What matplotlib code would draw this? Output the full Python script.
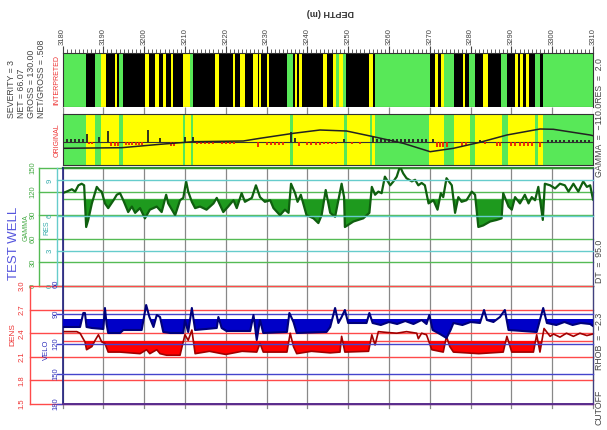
import numpy as np
import matplotlib
matplotlib.use("Agg")
import matplotlib.pyplot as plt

plt.rcParams["font.family"] = ["Liberation Sans", "DejaVu Sans"]

depth_ticks = list(range(3180, 3311, 10))

# interpreted column: start depth of each interval and its class (G sand-free, B black, Y yellow)
interp_top = [3180, 3185.8, 3188.0, 3189.4, 3190.7, 3192.9, 3193.4, 3193.9, 3194.9, 3200.2,
              3201.3, 3202.7, 3203.7, 3204.7, 3205.4, 3206.6, 3207.2, 3209.6, 3211.2, 3211.9,
              3217.4, 3218.4, 3221.7, 3222.3, 3223.5, 3224.7, 3226.6, 3227.8, 3228.2, 3228.7,
              3230.0, 3230.7, 3235.0, 3236.6, 3237.0, 3237.4, 3238.0, 3238.6, 3243.9, 3244.9,
              3246.2, 3247.0, 3247.8, 3248.7, 3249.5, 3255.2, 3256.1, 3256.6, 3270.1, 3271.3,
              3272.1, 3272.7, 3273.5, 3276.0, 3278.2, 3278.6, 3279.6, 3281.2, 3283.0, 3284.2,
              3287.4, 3289.0, 3290.9, 3291.5, 3292.1, 3292.8, 3293.5, 3294.2, 3295.8, 3297.0,
              3297.7]
interp_cls = ["G", "B", "G", "Y", "B", "Y", "B", "G", "B", "Y",
              "B", "Y", "B", "Y", "B", "Y", "B", "Y", "G", "B",
              "Y", "B", "Y", "B", "Y", "B", "Y", "B", "Y", "B",
              "Y", "B", "G", "B", "Y", "B", "Y", "B", "Y", "B",
              "Y", "G", "Y", "G", "B", "Y", "B", "G", "B", "Y",
              "B", "Y", "G", "B", "Y", "B", "G", "B", "Y", "B",
              "G", "B", "Y", "B", "Y", "B", "Y", "B", "G", "B",
              "G"]

# original column background
orig_top = [3180, 3185.8, 3188.0, 3189.4, 3193.9, 3194.9, 3209.6, 3210.1, 3211.5, 3212.1,
            3235.8, 3236.6, 3248.9, 3249.6, 3255.3, 3255.8, 3256.5, 3269.8, 3273.5, 3276.0,
            3279.9, 3281.2, 3287.6, 3289.2, 3295.8, 3296.6, 3297.7]
orig_cls = ["G", "Y", "G", "Y", "G", "Y", "G", "Y", "G", "Y",
            "G", "Y", "G", "Y", "G", "Y", "G", "Y", "G", "Y",
            "G", "Y", "G", "Y", "G", "Y", "G"]

# original column sticks (+ black, - red)
stick_depth = [3180, 3181, 3182, 3183, 3184, 3185, 3185.9, 3186.6, 3187.3, 3189.0,
               3191.1, 3192.0, 3192.8, 3193.6, 3195.5, 3196.3, 3197.1, 3197.9, 3198.7, 3199.5,
               3201.0, 3203.9, 3206.5, 3207.3, 3210.0, 3212.1, 3213, 3214, 3215, 3216,
               3217, 3219, 3220, 3221, 3222, 3228.0, 3230, 3231, 3232, 3233,
               3234, 3236.0, 3237.0, 3238.0, 3240, 3241, 3242, 3243, 3244, 3245,
               3246, 3247, 3249.0, 3251, 3253, 3256.0, 3257, 3258, 3259, 3260,
               3261, 3262, 3263, 3264, 3265, 3266, 3267, 3268, 3269, 3270.9,
               3271.7, 3272.5, 3273.3, 3274.1, 3277.8, 3279.0, 3282.3, 3283.5, 3286.4, 3287.2,
               3290, 3291, 3292, 3293, 3294, 3295, 3297, 3299, 3300, 3301,
               3302, 3303, 3304, 3305, 3306, 3307, 3308, 3309]
stick_val = [3, 3, 3, 3, 3, 3, 8, -2, -2, 5,
             11, -4, -4, -4, -3, -3, -3, -3, -3, -3,
             12, 4, -4, -4, 5, 5, -2, -2, -2, -2,
             -2, -2, -2, -2, -2, -5, -3, -3, -3, -3,
             -3, 10, 4, -4, -3, -3, -3, -3, -2, -2,
             -2, -2, 3, -2, -2, 5, 3, 3, 3, 3,
             3, 3, 3, 3, 3, 3, 3, 3, 3, 3,
             -5, -5, -5, -5, -4, -4, 2, -2, -4, -4,
             -4, -4, -4, -4, -4, -4, -5, 2, 2, 2,
             2, 2, 2, 2, 2, 2, 2, 2]

# smooth trend curve in original column
trend_depth = [3180, 3194.5, 3203.9, 3212.1, 3224.3, 3228.4, 3236.6, 3243.1, 3249.6, 3256.2,
               3263.5, 3270.1, 3275.8, 3282.3, 3288.9, 3297.0, 3300.3, 3309.3, 3310]
trend_val = [-6.6, -6.0, -2.6, 0.0, 0.7, 3.4, 8.4, 11.7, 10.7, 5.0,
             -1.6, -10.0, -6.6, -0.6, 6.7, 12.7, 12.4, 6.7, 6.0]

# gamma ray (API)
gamma_depth = [3180.0, 3181.0, 3182.3, 3183.1, 3183.9, 3184.7, 3185.3, 3185.8, 3186.3, 3187.2,
               3188.4, 3189.0, 3189.6, 3190.4, 3191.2, 3192.5, 3193.3, 3194.1, 3194.9, 3196.1,
               3197.0, 3197.8, 3199.0, 3200.2, 3201.4, 3203.1, 3204.3, 3205.4, 3205.9, 3207.6,
               3208.8, 3209.6, 3210.3, 3210.8, 3211.7, 3212.5, 3213.7, 3215.3, 3217.0, 3217.8,
               3219.4, 3220.6, 3221.9, 3222.7, 3223.9, 3224.7, 3226.4, 3227.4, 3228.4, 3229.6,
               3230.9, 3231.7, 3233.3, 3234.5, 3235.4, 3236.0, 3237.0, 3237.6, 3238.4, 3239.8,
               3241.5, 3242.7, 3243.5, 3244.5, 3245.6, 3246.8, 3247.6, 3248.4, 3249.0, 3249.2,
               3251.3, 3253.7, 3255.2, 3255.8, 3256.6, 3257.4, 3258.2, 3259.0, 3260.3, 3261.1,
               3261.9, 3262.7, 3263.5, 3264.3, 3265.6, 3266.4, 3267.2, 3268.0, 3268.8, 3269.7,
               3270.9, 3271.9, 3272.7, 3273.3, 3274.1, 3275.4, 3276.2, 3277.0, 3277.8, 3279.0,
               3280.3, 3281.1, 3281.9, 3283.1, 3284.8, 3286.4, 3287.6, 3288.0, 3289.3, 3290.1,
               3290.9, 3292.1, 3293.3, 3294.2, 3295.0, 3295.8, 3296.6, 3297.7, 3298.2, 3299.5,
               3300.7, 3301.9, 3303.1, 3304.0, 3305.2, 3306.4, 3307.6, 3308.5, 3309.3, 3310.0]
gamma_val = [118, 120, 123, 120, 128, 130, 128, 75, 84, 105,
             126, 122, 120, 105, 99, 109, 116, 118, 109, 94,
             101, 93, 99, 86, 97, 101, 94, 116, 105, 90,
             109, 112, 133, 120, 107, 99, 101, 97, 105, 112,
             94, 101, 109, 99, 118, 107, 112, 128, 113, 107,
             109, 99, 90, 97, 93, 130, 118, 107, 116, 90,
             86, 80, 90, 122, 93, 88, 109, 130, 113, 75,
             82, 86, 93, 126, 116, 120, 118, 139, 128, 133,
             139, 152, 143, 137, 133, 135, 128, 131, 128, 105,
             109, 97, 118, 113, 137, 128, 93, 113, 107, 109,
             120, 116, 75, 77, 82, 84, 86, 118, 101, 97,
             113, 105, 116, 105, 113, 109, 126, 84, 130, 128,
             124, 130, 128, 120, 130, 120, 133, 126, 128, 110]

# sonic (VELO / DT)
dt_depth = [3180.0, 3184.3, 3185.1, 3185.5, 3185.9, 3187.2, 3190.0, 3190.4, 3190.8, 3191.2,
            3194.1, 3194.9, 3199.4, 3200.5, 3201.3, 3202.3, 3203.1, 3203.9, 3204.7, 3206.4,
            3209.6, 3210.0, 3210.8, 3211.7, 3212.5, 3217.8, 3218.2, 3219.0, 3220.2, 3226.0,
            3226.8, 3227.6, 3228.4, 3229.2, 3235.0, 3235.6, 3236.6, 3237.4, 3244.7, 3245.6,
            3246.8, 3247.6, 3248.4, 3249.2, 3250.0, 3254.5, 3255.2, 3256.0, 3258.0, 3260.0,
            3262.0, 3264.0, 3266.0, 3268.0, 3269.2, 3269.9, 3270.7, 3272.5, 3274.1, 3275.1,
            3275.8, 3278.0, 3280.0, 3282.3, 3283.3, 3284.0, 3285.6, 3287.2, 3288.4, 3289.3,
            3296.2, 3297.8, 3298.7, 3301.0, 3303.0, 3305.0, 3307.0, 3309.3, 3310.0]
dt_val = [103, 103, 89, 89, 103, 104, 105, 84, 100, 109,
          109, 106, 106, 81, 93, 103, 91, 93, 108, 109,
          109, 96, 108, 84, 106, 104, 93, 104, 107, 107,
          91, 116, 96, 109, 108, 89, 98, 109, 108, 103,
          84, 99, 93, 86, 99, 99, 89, 99, 101, 98,
          100, 97, 100, 96, 100, 91, 106, 110, 114, 106,
          99, 101, 98, 99, 86, 96, 98, 93, 86, 106,
          108, 84, 99, 101, 98, 101, 99, 100, 102]

# bulk density (g/cc)
den_depth = [3180.0, 3183.5, 3184.3, 3185.5, 3185.9, 3187.2, 3188.0, 3188.8, 3189.6, 3190.4,
             3191.2, 3194.1, 3199.0, 3200.6, 3201.4, 3203.1, 3203.9, 3205.5, 3208.8, 3210.0,
             3210.8, 3211.7, 3212.5, 3216.0, 3220.0, 3224.0, 3227.6, 3228.4, 3229.2, 3235.0,
             3235.8, 3236.6, 3237.4, 3241.0, 3245.6, 3248.0, 3248.4, 3249.2, 3255.0, 3255.8,
             3256.6, 3257.4, 3259.4, 3261.9, 3264.3, 3266.8, 3267.2, 3268.0, 3269.2, 3270.5,
             3273.3, 3274.1, 3274.9, 3275.8, 3282.0, 3288.0, 3288.9, 3290.1, 3295.4, 3296.2,
             3297.0, 3298.0, 3299.5, 3300.3, 3301.9, 3303.5, 3305.2, 3306.8, 3308.5, 3310.0]
den_val = [2.42, 2.42, 2.40, 2.29, 2.19, 2.23, 2.31, 2.38, 2.29, 2.27,
           2.16, 2.16, 2.14, 2.19, 2.14, 2.19, 2.14, 2.12, 2.12, 2.38,
           2.31, 2.44, 2.14, 2.17, 2.13, 2.17, 2.16, 2.27, 2.16, 2.16,
           2.40, 2.23, 2.14, 2.17, 2.15, 2.16, 2.36, 2.16, 2.17, 2.38,
           2.25, 2.42, 2.41, 2.40, 2.42, 2.40, 2.33, 2.40, 2.38, 2.19,
           2.16, 2.36, 2.23, 2.16, 2.14, 2.16, 2.36, 2.16, 2.16, 2.38,
           2.16, 2.46, 2.36, 2.39, 2.35, 2.40, 2.36, 2.40, 2.37, 2.39]

gamma_ticks = [0, 30, 60, 90, 120, 150]
res_ticks = [0, 3, 6, 9]
den_ticks = [1.5, 1.8, 2.1, 2.4, 2.7, 3.0]
velo_ticks = [60, 90, 120, 150, 180]
GAMMA_CUT, DT_CUT, RHOB_CUT = 110.0, 95.0, 2.3

# ---- layout helpers (pixel positions of the original page) ----
W, H = 607, 430
X0, X1 = 62.5, 593.0
GREEN, YELLOW = "#58e858", "#ffff00"
cls_color = {"G": GREEN, "Y": YELLOW, "B": "black"}


def box(y0, y1):
    return [X0 / W, 1 - y1 / H, (X1 - X0) / W, (y1 - y0) / H]


def axx(px):
    return (px - X0) / (X1 - X0)


def bare(ax):
    ax.set_xlim(3180, 3310)
    ax.set_xticks([])
    ax.set_yticks([])


fig = plt.figure(figsize=(W / 100, H / 100), dpi=100)

# interpreted column
ax_int = fig.add_axes(box(53, 107))
bare(ax_int)
edges = interp_top + [3310]
for d0, d1, c in zip(edges[:-1], edges[1:], interp_cls):
    ax_int.axvspan(d0, d1, color=cls_color[c], lw=0)
ax_int.set_xticks(depth_ticks)
ax_int.set_xticks(np.arange(3180, 3311, 1), minor=True)
ax_int.tick_params(axis="x", which="both", top=True, bottom=False, labeltop=True,
                   labelbottom=False, direction="out", color="#444444")
ax_int.tick_params(axis="x", which="major", length=5, labelrotation=90, labelsize=5.5,
                   pad=1, labelcolor="#444444")
ax_int.tick_params(axis="x", which="minor", length=3, width=0.6)
for s in ax_int.spines.values():
    s.set_color("#333333")
    s.set_linewidth(0.8)

# white strip with grid
ax_strip = fig.add_axes(box(107, 114))
bare(ax_strip)
ax_strip.vlines(depth_ticks, 0, 1, colors="#888888", lw=0.9)
for s in ax_strip.spines.values():
    s.set_visible(False)

# original column
ax_orig = fig.add_axes(box(114, 165))
bare(ax_orig)
ax_orig.set_ylim(-23.3, 27.7)
edges = orig_top + [3310]
for d0, d1, c in zip(edges[:-1], edges[1:], orig_cls):
    ax_orig.axvspan(d0, d1, color=cls_color[c], lw=0)
ax_orig.axhline(0, color="#333333", lw=0.8)
sv = np.array(stick_val)
sd = np.array(stick_depth)
ax_orig.vlines(sd[sv > 0], 0, sv[sv > 0], colors="#222222", lw=1.3)
ax_orig.vlines(sd[sv < 0], 0, sv[sv < 0], colors="#ee2200", lw=1.3)
ax_orig.plot(trend_depth, trend_val, color="#222222", lw=1.1)
for s in ax_orig.spines.values():
    s.set_color("#333333")
    s.set_linewidth(0.8)

# gamma / resistivity column
ax_gam = fig.add_axes(box(168, 286))
bare(ax_gam)
ax_gam.set_ylim(0, 150)
ax_gam.patch.set_alpha(0)
ax_res = ax_gam.twinx()
ax_res.set_ylim(0, 10.06)
ax_res.set_yticks([])
for a in (ax_gam, ax_res):
    for s in a.spines.values():
        s.set_visible(False)
ax_gam.vlines(depth_ticks, 0, 150, colors="#888888", lw=0.9, zorder=1)
tg = ax_gam.get_yaxis_transform()
tr = ax_res.get_yaxis_transform()
for g in gamma_ticks:
    ax_gam.plot([axx(39), 1], [g, g], transform=tg, color="#55bb55", lw=1.0,
                clip_on=False, zorder=2)
    ax_gam.text(axx(33), g, str(g), transform=tg, rotation=90, ha="center", va="center",
                fontsize=5.5, color="#44aa44")
ax_gam.plot([axx(39)] * 2, [0, 150], transform=tg, color="#55bb55", lw=1.0, clip_on=False)
ax_gam.plot([0, 1], [150, 150], transform=tg, color="#2f8f2f", lw=1.6, clip_on=False)
for r in res_ticks:
    ax_res.plot([axx(57), 1], [r, r], transform=tr, color="#66cccc", lw=1.0,
                clip_on=False, zorder=2)
    ax_res.text(axx(50), r, str(r), transform=tr, rotation=90, ha="center", va="center",
                fontsize=5.5, color="#33aaaa")
ax_res.plot([axx(57)] * 2, [0, 10.06], transform=tr, color="#66cccc", lw=1.0, clip_on=False)
ax_gam.axhline(GAMMA_CUT, color="#55bb55", lw=1.0, zorder=2)
gd = np.array(gamma_depth)
gv = np.array(gamma_val)
ax_gam.fill_between(gd, gv, GAMMA_CUT, where=gv < GAMMA_CUT, interpolate=True,
                    color="#1e9a1e", lw=0, zorder=3)
ax_gam.plot(gd, gv, color="#0f5f0f", lw=1.6, zorder=4)

# density / velocity column
ax_den = fig.add_axes(box(286, 404))
bare(ax_den)
ax_den.set_ylim(1.5, 3.0)
ax_den.patch.set_alpha(0)
ax_vel = ax_den.twinx()
ax_vel.set_ylim(180, 62)
ax_vel.set_yticks([])
for a in (ax_den, ax_vel):
    for s in a.spines.values():
        s.set_visible(False)
for d in depth_ticks:
    ax_den.axvline(d, ymin=-0.035, ymax=1, color="#888888", lw=0.9, clip_on=False, zorder=1)
td = ax_den.get_yaxis_transform()
tv = ax_vel.get_yaxis_transform()
for v in den_ticks:
    ax_den.plot([axx(30), 1], [v, v], transform=td, color="#ff4a4a", lw=1.0,
                clip_on=False, zorder=2)
    ax_den.text(axx(22), v, f"{v:.1f}", transform=td, rotation=90, ha="center",
                va="center", fontsize=5.5, color="#ee3333")
ax_den.plot([axx(30)] * 2, [1.5, 3.0], transform=td, color="#ff4a4a", lw=1.0, clip_on=False)
for v in velo_ticks:
    if v > 60:
        ax_vel.plot([axx(57), 1], [v, v], transform=tv, color="#4444cc", lw=1.0,
                    clip_on=False, zorder=2)
    ax_vel.text(axx(56), v, str(v), transform=tv, rotation=90, ha="center", va="center",
                fontsize=5.5, color="#3333bb")
ax_vel.plot([0, 1], [180, 180], transform=tv, color="#5a2d8c", lw=1.4, clip_on=False)
ax_den.axhline(RHOB_CUT, color="#ff4a4a", lw=1.0, zorder=2)
dd = np.array(den_depth)
dv = np.array(den_val)
ax_den.fill_between(dd, dv, RHOB_CUT, where=dv < RHOB_CUT, interpolate=True,
                    color="#ff0000", lw=0, zorder=3)
ax_den.plot(dd, dv, color="#a00000", lw=1.2, zorder=4)
td_ = np.array(dt_depth)
tv_ = np.array(dt_val)
ax_vel.fill_between(td_, tv_, DT_CUT, where=tv_ > DT_CUT, interpolate=True,
                    color="#0000c8", lw=0, zorder=3)
ax_vel.plot(td_, tv_, color="#00007a", lw=1.5, zorder=4)

# vertical frame lines of the lower columns
for a, lo, hi in ((ax_gam, 0, 150), (ax_den, 1.5, 3.0)):
    a.plot([0, 0], [lo, hi], transform=a.get_yaxis_transform(), color="#202080", lw=1.2,
           clip_on=False, zorder=5)
    a.plot([1, 1], [lo, hi], transform=a.get_yaxis_transform(), color="#404080", lw=0.9,
           clip_on=False, zorder=5)

# ---- annotation text ----
def ftext(px, py, s, **kw):
    kw.setdefault("rotation", 90)
    kw.setdefault("ha", "center")
    kw.setdefault("va", "center")
    fig.text(px / W, 1 - py / H, s, **kw)


ftext(330, 13, "DEPTH (m)", rotation=180, fontsize=6.5, color="#333333", fontweight="bold")
info = ["SEVERITY = 3", "NET = 66.07", "GROSS = 130.00", "NET/GROSS = .508"]
for px, s in zip([12, 22, 32, 41], info):
    ftext(px, 118, s, ha="left", rotation_mode="anchor", fontsize=6.3, color="#444444")
ftext(57, 80, "INTERPRETED", fontsize=5, color="#ee3333")
ftext(57, 140, "ORIGINAL", fontsize=5, color="#ee3333")
ftext(14, 243, "TEST WELL", fontsize=9.5, color="#5555dd")
ftext(26, 228, "GAMMA", fontsize=5, color="#44aa44")
ftext(47, 228, "RES", fontsize=5, color="#33aaaa")
ftext(13, 335, "DENS", fontsize=6, color="#ee3333")
ftext(46, 350, "VELO", fontsize=5.5, color="#3333bb")

ftext(599, 407, "CUTOFF", fontsize=6.3, color="#444444")
ftext(599, 341, "RHOB  =  \u22122.3", fontsize=6.3, color="#444444")
ftext(599, 261, "DT  =  95.0", fontsize=6.3, color="#444444")
ftext(599, 118, "GAMMA  =  \u2212110.0RES  =  2.0", fontsize=6.3, color="#444444")

fig.savefig("out.png", dpi=100)
